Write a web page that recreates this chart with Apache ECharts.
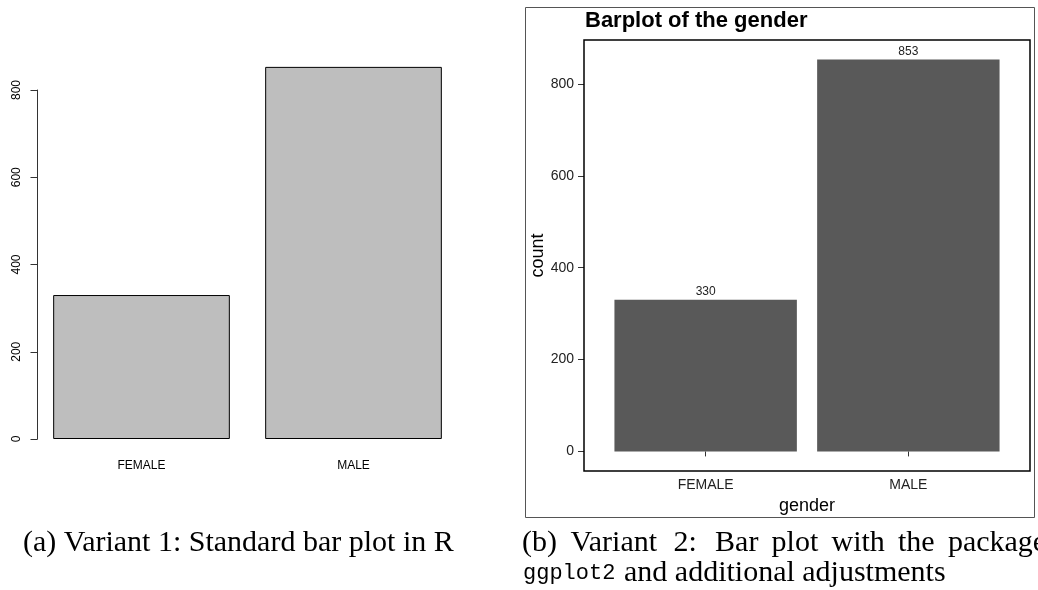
<!DOCTYPE html>
<html>
<head>
<meta charset="utf-8">
<script src="https://cdn.jsdelivr.net/npm/echarts@6/dist/echarts.min.js"></script>
<style>html,body{margin:0;padding:0;background:#fff}#c{width:1038px;height:590px}</style>
</head>
<body>
<div id="c"></div>
<script>
const categories = ['FEMALE', 'MALE'];
const counts = [330, 853];
const leftTicks = [0, 200, 400, 600, 800];
const rightTicks = [0, 200, 400, 600, 800];
const titleText = 'Barplot of the gender';
const xName = 'gender';
const yName = 'count';
const captionA = '(a) Variant 1: Standard bar plot in R';
const captionB1 = ['(b)', 'Variant', '2:', 'Bar', 'plot', 'with', 'the', 'package'];
const captionB2mono = 'ggplot2';
const captionB2 = 'and additional adjustments';

const maxCount = Math.max(...counts);
const yMin = -0.05 * maxCount, yMax = 1.05 * maxCount;

const chart = echarts.init(document.getElementById('c'), null, {renderer: 'canvas'});
const SANS = 'Liberation Sans, Arial, sans-serif';
const SERIF = 'Liberation Serif, Times New Roman, serif';
const MONO = 'Liberation Mono, monospace';

const b1x = [522, 570.4, 673.6, 715.1, 771.6, 831.5, 898, 947.9];
const capStyle = {font: '30px ' + SERIF, fill: '#000', verticalAlign: 'middle'};
const graphics = [
  {type: 'rect', shape: {x: 525.5, y: 7.5, width: 509, height: 510}, style: {fill: 'none', stroke: '#555', lineWidth: 1}, silent: true},
  {type: 'rect', shape: {x: 584, y: 40, width: 446, height: 431}, style: {fill: 'none', stroke: '#000', lineWidth: 1.5}, silent: true, z: 10}
];
const texts = [];
texts.push({type: 'text', x: 23, y: 543, style: Object.assign({text: captionA}, capStyle)});
captionB1.forEach((w, i) => texts.push({type: 'text', x: b1x[i], y: 543, style: Object.assign({text: w}, capStyle)}));
texts.push({type: 'text', x: 523, y: 573, style: {text: captionB2mono, font: '22px ' + MONO, fill: '#000', verticalAlign: 'middle'}});
texts.push({type: 'text', x: 624, y: 573, style: Object.assign({text: captionB2}, capStyle)});

const option = {
  animation: false,
  title: {
    text: titleText, left: 585, top: 10, padding: 0,
    textStyle: {fontFamily: SANS, fontWeight: 'bold', fontSize: 22, color: '#000'}
  },
  grid: [
    {left: 35.5, top: 90, width: 424, height: 349},
    {left: 604.3, top: 40, width: 405.4, height: 431}
  ],
  xAxis: [
    {gridIndex: 0, type: 'category', data: categories,
     axisLine: {show: false}, axisTick: {show: false},
     axisLabel: {margin: 21, fontSize: 12, color: '#000', fontFamily: SANS}},
    {gridIndex: 1, type: 'category', data: categories,
     axisLine: {show: false},
     axisTick: {show: true, alignWithLabel: true, length: 5, lineStyle: {color: '#333', width: 1}},
     axisLabel: {margin: 7, fontSize: 14, color: '#222', fontFamily: SANS},
     name: xName, nameLocation: 'middle', nameGap: 22,
     nameTextStyle: {fontSize: 18, color: '#000', fontFamily: SANS}}
  ],
  yAxis: [
    {gridIndex: 0, type: 'value', min: 0, max: 800, interval: 200, offset: -2,
     axisLine: {show: true, lineStyle: {color: '#333', width: 1}},
     axisTick: {show: true, length: 7, lineStyle: {color: '#333', width: 1}},
     axisLabel: {rotate: 90, margin: 15, fontSize: 12, color: '#000', fontFamily: SANS},
     splitLine: {show: false}},
    {gridIndex: 1, type: 'value', min: yMin, max: yMax, offset: 20.3,
     axisLine: {show: false},
     axisTick: {show: true, length: 6, customValues: rightTicks, lineStyle: {color: '#333', width: 1}},
     axisLabel: {customValues: rightTicks, margin: 10, fontSize: 14, color: '#222', fontFamily: SANS},
     splitLine: {show: false},
     name: yName, nameLocation: 'middle', nameGap: 37,
     nameTextStyle: {fontSize: 18, color: '#000', fontFamily: SANS}}
  ],
  series: [
    {type: 'bar', xAxisIndex: 0, yAxisIndex: 0, data: counts, barWidth: '83.33%', clip: false,
     itemStyle: {color: '#BEBEBE', borderColor: '#000', borderWidth: 1}},
    {type: 'bar', xAxisIndex: 1, yAxisIndex: 1, data: counts, barWidth: '90%',
     itemStyle: {color: '#595959'},
     label: {show: true, position: 'top', distance: 2, fontSize: 12, color: '#222', fontFamily: SANS}}
  ],
  graphic: graphics.concat(texts)
};
chart.setOption(option);
</script>
</body>
</html>
